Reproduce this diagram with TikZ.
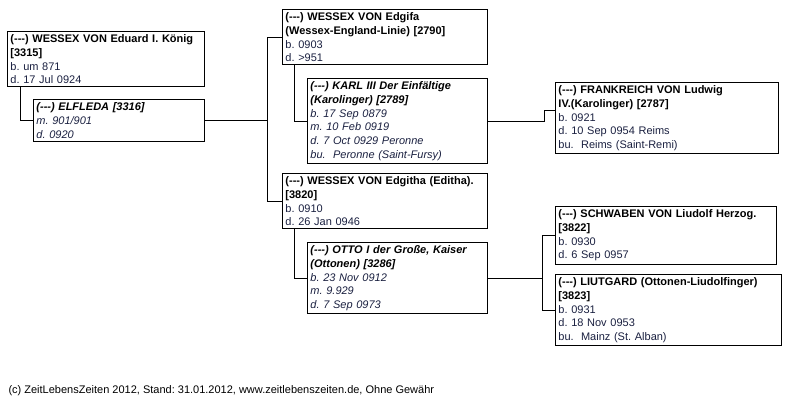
\documentclass[tikz,border=0pt]{standalone}
\usepackage{fontspec}
\setmainfont{Liberation Sans}
\usepackage{xcolor}
\usepackage{tikz}
\usetikzlibrary{positioning}

\definecolor{detailblue}{HTML}{1A2040}
\newcommand{\nm}[1]{\textcolor{black}{\textbf{#1}}}

\begin{document}
\frenchspacing
\hyphenpenalty=10000
\exhyphenpenalty=10000
\begin{tikzpicture}[
    x=1pt, y=-1pt,
    person/.style={
        draw, line width=0.9pt, anchor=north west, align=left,
        inner xsep=3pt, inner ysep=3pt, text=detailblue,
        font=\fontsize{11}{13.8}\selectfont
    },
    spouse/.style={
        person, font=\fontsize{11}{13.8}\selectfont\itshape
    },
    link/.style={
        draw, line width=0.7pt
    }
]
\useasboundingbox (0,0) rectangle (792,406);

% left branch
\node [person, text width=191pt] (eduard) at (7,31)
    {\nm{({-}{-}{-}) WESSEX VON Eduard I. König}\\ \nm{[3315]}\\
     b. um 871\\ d. 17 Jul 0924};
\node [spouse, text width=165pt] (elfleda) at (33,99)
    {\nm{({-}{-}{-}) ELFLEDA [3316]}\\
     m. 901/901\\ d. 0920};

% daughters
\node [person, text width=199pt] (edgifa) at (282,9)
    {\nm{({-}{-}{-}) WESSEX VON Edgifa}\\ \nm{(Wessex-England-Linie) [2790]}\\
     b. 0903\\ d. >951};
\node [spouse, text width=174pt] (karl) at (307,78)
    {\nm{({-}{-}{-}) KARL III Der Einfältige}\\ \nm{(Karolinger) [2789]}\\
     b. 17 Sep 0879\\ m. 10 Feb 0919\\ d. 7 Oct 0929 Peronne\\ bu.\ \ Peronne (Saint-Fursy)};
\node [person, text width=199pt] (edgitha) at (282,173)
    {\nm{({-}{-}{-}) WESSEX VON Edgitha (Editha).}\\ \nm{[3820]}\\
     b. 0910\\ d. 26 Jan 0946};
\node [spouse, text width=174pt] (otto) at (307,242)
    {\nm{({-}{-}{-}) OTTO I der Große, Kaiser}\\ \nm{(Ottonen) [3286]}\\
     b. 23 Nov 0912\\ m. 9.929\\ d. 7 Sep 0973};

% grandchildren
\node [person, text width=217pt] (ludwig) at (555,82)
    {\nm{({-}{-}{-}) FRANKREICH VON Ludwig}\\ \nm{IV.(Karolinger) [2787]}\\
     b. 0921\\ d. 10 Sep 0954 Reims\\ bu.\ \ Reims (Saint-Remi)};
\node [person, text width=215pt] (liudolf) at (555,206)
    {\nm{({-}{-}{-}) SCHWABEN VON Liudolf Herzog.}\\ \nm{[3822]}\\
     b. 0930\\ d. 6 Sep 0957};
\node [person, text width=220pt] (liutgard) at (555,274)
    {\nm{({-}{-}{-}) LIUTGARD (Ottonen-Liudolfinger)}\\ \nm{[3823]}\\
     b. 0931\\ d. 18 Nov 0953\\ bu.\ \ Mainz (St. Alban)};

\node [anchor=west, font=\fontsize{11}{13.8}\selectfont] (footer) at (5,391)
    {(c) ZeitLebensZeiten 2012, Stand: 31.01.2012, www.zeitlebenszeiten.de, Ohne Gewähr};

\coordinate (fork1) at ([xshift=-15pt]edgifa.west);
\coordinate (fork2) at ([xshift=-13pt]liudolf.west);

\draw [link] ([xshift=13pt]eduard.south west) |- (elfleda.west);
\draw [link] (elfleda.east) -- (elfleda.east -| fork1);
\draw [link] (edgifa.west) -- (fork1) |- (edgitha.west);

\draw [link] ([xshift=12pt]edgifa.south west) |- (karl.west);
\draw [link] (karl.east) -- ++(56,0) |- ([yshift=8pt]ludwig.west);

\draw [link] ([xshift=12pt]edgitha.south west) |- (otto.west);
\draw [link] (otto.east) -- (otto.east -| fork2);
\draw [link] (liudolf.west) -- (fork2) |- (liutgard.west);

\end{tikzpicture}
\end{document}
